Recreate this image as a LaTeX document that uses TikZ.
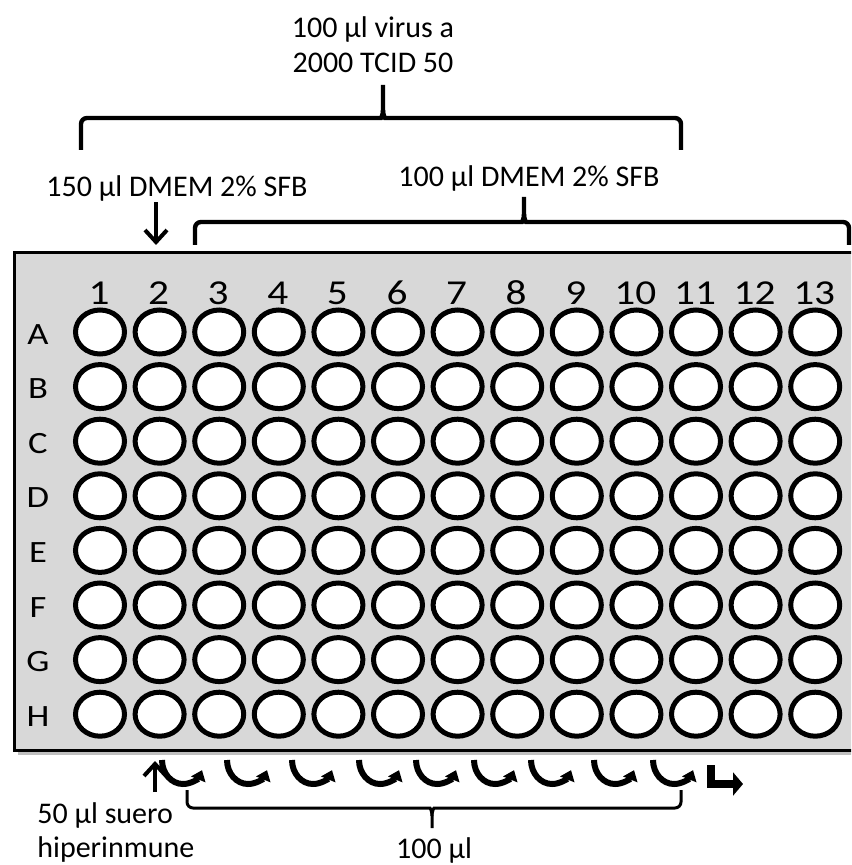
\documentclass[tikz,border=0pt]{standalone}
\usepackage{fontspec}
\setmainfont{Carlito}
\newfontfamily\platefont{Carlito}[FakeStretch=1.18]
\usepackage{tikz}
\usetikzlibrary{arrows.meta,shapes.geometric,positioning}
\definecolor{plategray}{RGB}{216,216,216}
\tikzset{
	plate/.style = {draw, fill=plategray, line width=1.5pt},
	well/.style = {ellipse, draw, fill=white, line width=2.5pt,
	  minimum width=24.5pt, minimum height=22pt, inner sep=0pt},
	collabel/.style = {anchor=base, inner sep=0pt, font=\platefont\fontsize{17.5}{20}\selectfont},
	rowlabel/.style = {anchor=base, inner sep=0pt, font=\platefont\fontsize{15.5}{18}\selectfont},
	lbl/.style = {anchor=base, inner sep=0pt, font=\fontsize{15}{18}\selectfont},
	bracket/.style = {line width=2.2pt, rounded corners=3pt},
	drop/.style = {line width=2pt, -{Straight Barb[length=6pt,width=11pt]}},
	mix/.style = {line width=3pt, -{Triangle[length=5pt,width=7.5pt]}},
	turn/.style = {line width=4pt, -{Triangle[length=5pt,width=11.5pt]}},
}

\begin{document}
\begin{tikzpicture}[x=0.5pt, y=-0.5pt]
    \useasboundingbox (0,0) rectangle (851,865);
    \clip (0,0) rectangle (851,865);
    % plate
    \fill[black!25] (18,751) rectangle (870,755);
    \draw[plate] (14,253) rectangle (870,750);
    % texts above
    \node[lbl] (virus) at (373,38) {100 µl virus a};
    \node[lbl] (tcid) at (373,73) {2000 TCID 50};
    \node[lbl] (dmem150) at (177,197) {150 µl DMEM 2\% SFB};
    \node[lbl] (dmem100) at (529,187) {100 µl DMEM 2\% SFB};
    % braces
    \draw[bracket] (81,150) -- (81,118) -- (375,118) [sharp corners]
      .. controls (381,118) and (383,115) .. (383,110) -- (383,85);
    \draw[bracket] (681,150) -- (681,118) -- (391,118) [sharp corners]
      .. controls (385,118) and (383,115) .. (383,110);
    \draw[bracket] (195,245) -- (195,222) -- (516,222) [sharp corners]
      .. controls (522,222) and (524,219) .. (524,214) -- (524,197);
    \draw[bracket] (849,245) -- (849,222) -- (532,222) [sharp corners]
      .. controls (526,222) and (524,219) .. (524,214);
    \coordinate (fill2) at (156,245);
    \draw[drop] (dmem150.south -| fill2) -- (fill2);
    % wells
    \foreach \c in {1,...,13}
      \node[collabel] (col\c) at ({99+59.6*(\c-1)},305) {\c};
    \foreach \r [count=\i from 0] in {A,B,C,D,E,F,G,H} {
      \node[rowlabel] (row\r) at (38,{344+54.6*\i}) {\r};
      \foreach \c in {1,...,13}
        \node[well] (\r\c) at ({100+59.6*(\c-1)},{332+54.6*\i}) {};
    }
    % below the plate
    \node[lbl, anchor=base west] (serum) at (37,823) {50 µl suero};
    \node[lbl, anchor=base west] (hiper) at (37,857) {hiperinmune};
    \node[lbl] (transfer) at (434,858) {100 µl};
    \coordinate (serumtop) at (155,792);
    \coordinate (fill1) at (155,761);
    \draw[drop] (serumtop) -- (fill1);
    \foreach \x in {183,248,313,380,437,495,552,615,674}
      \draw[mix] (\x-21,760) arc[start angle=180, end angle=25, x radius=21, y radius=24];
    \coordinate (lstart) at (711,765);
    \coordinate (lend) at (743,784);
    \draw[turn] (lstart) |- (lend);
    \draw[bracket, line width=1.5pt] (187,790) -- (187,808) -- (424,808) [sharp corners]
      .. controls (430,808) and (432,811) .. (432,816) -- (432,828);
    \draw[bracket, line width=1.5pt] (681,790) -- (681,808) -- (440,808) [sharp corners]
      .. controls (434,808) and (432,811) .. (432,816);
\end{tikzpicture}
\end{document}
